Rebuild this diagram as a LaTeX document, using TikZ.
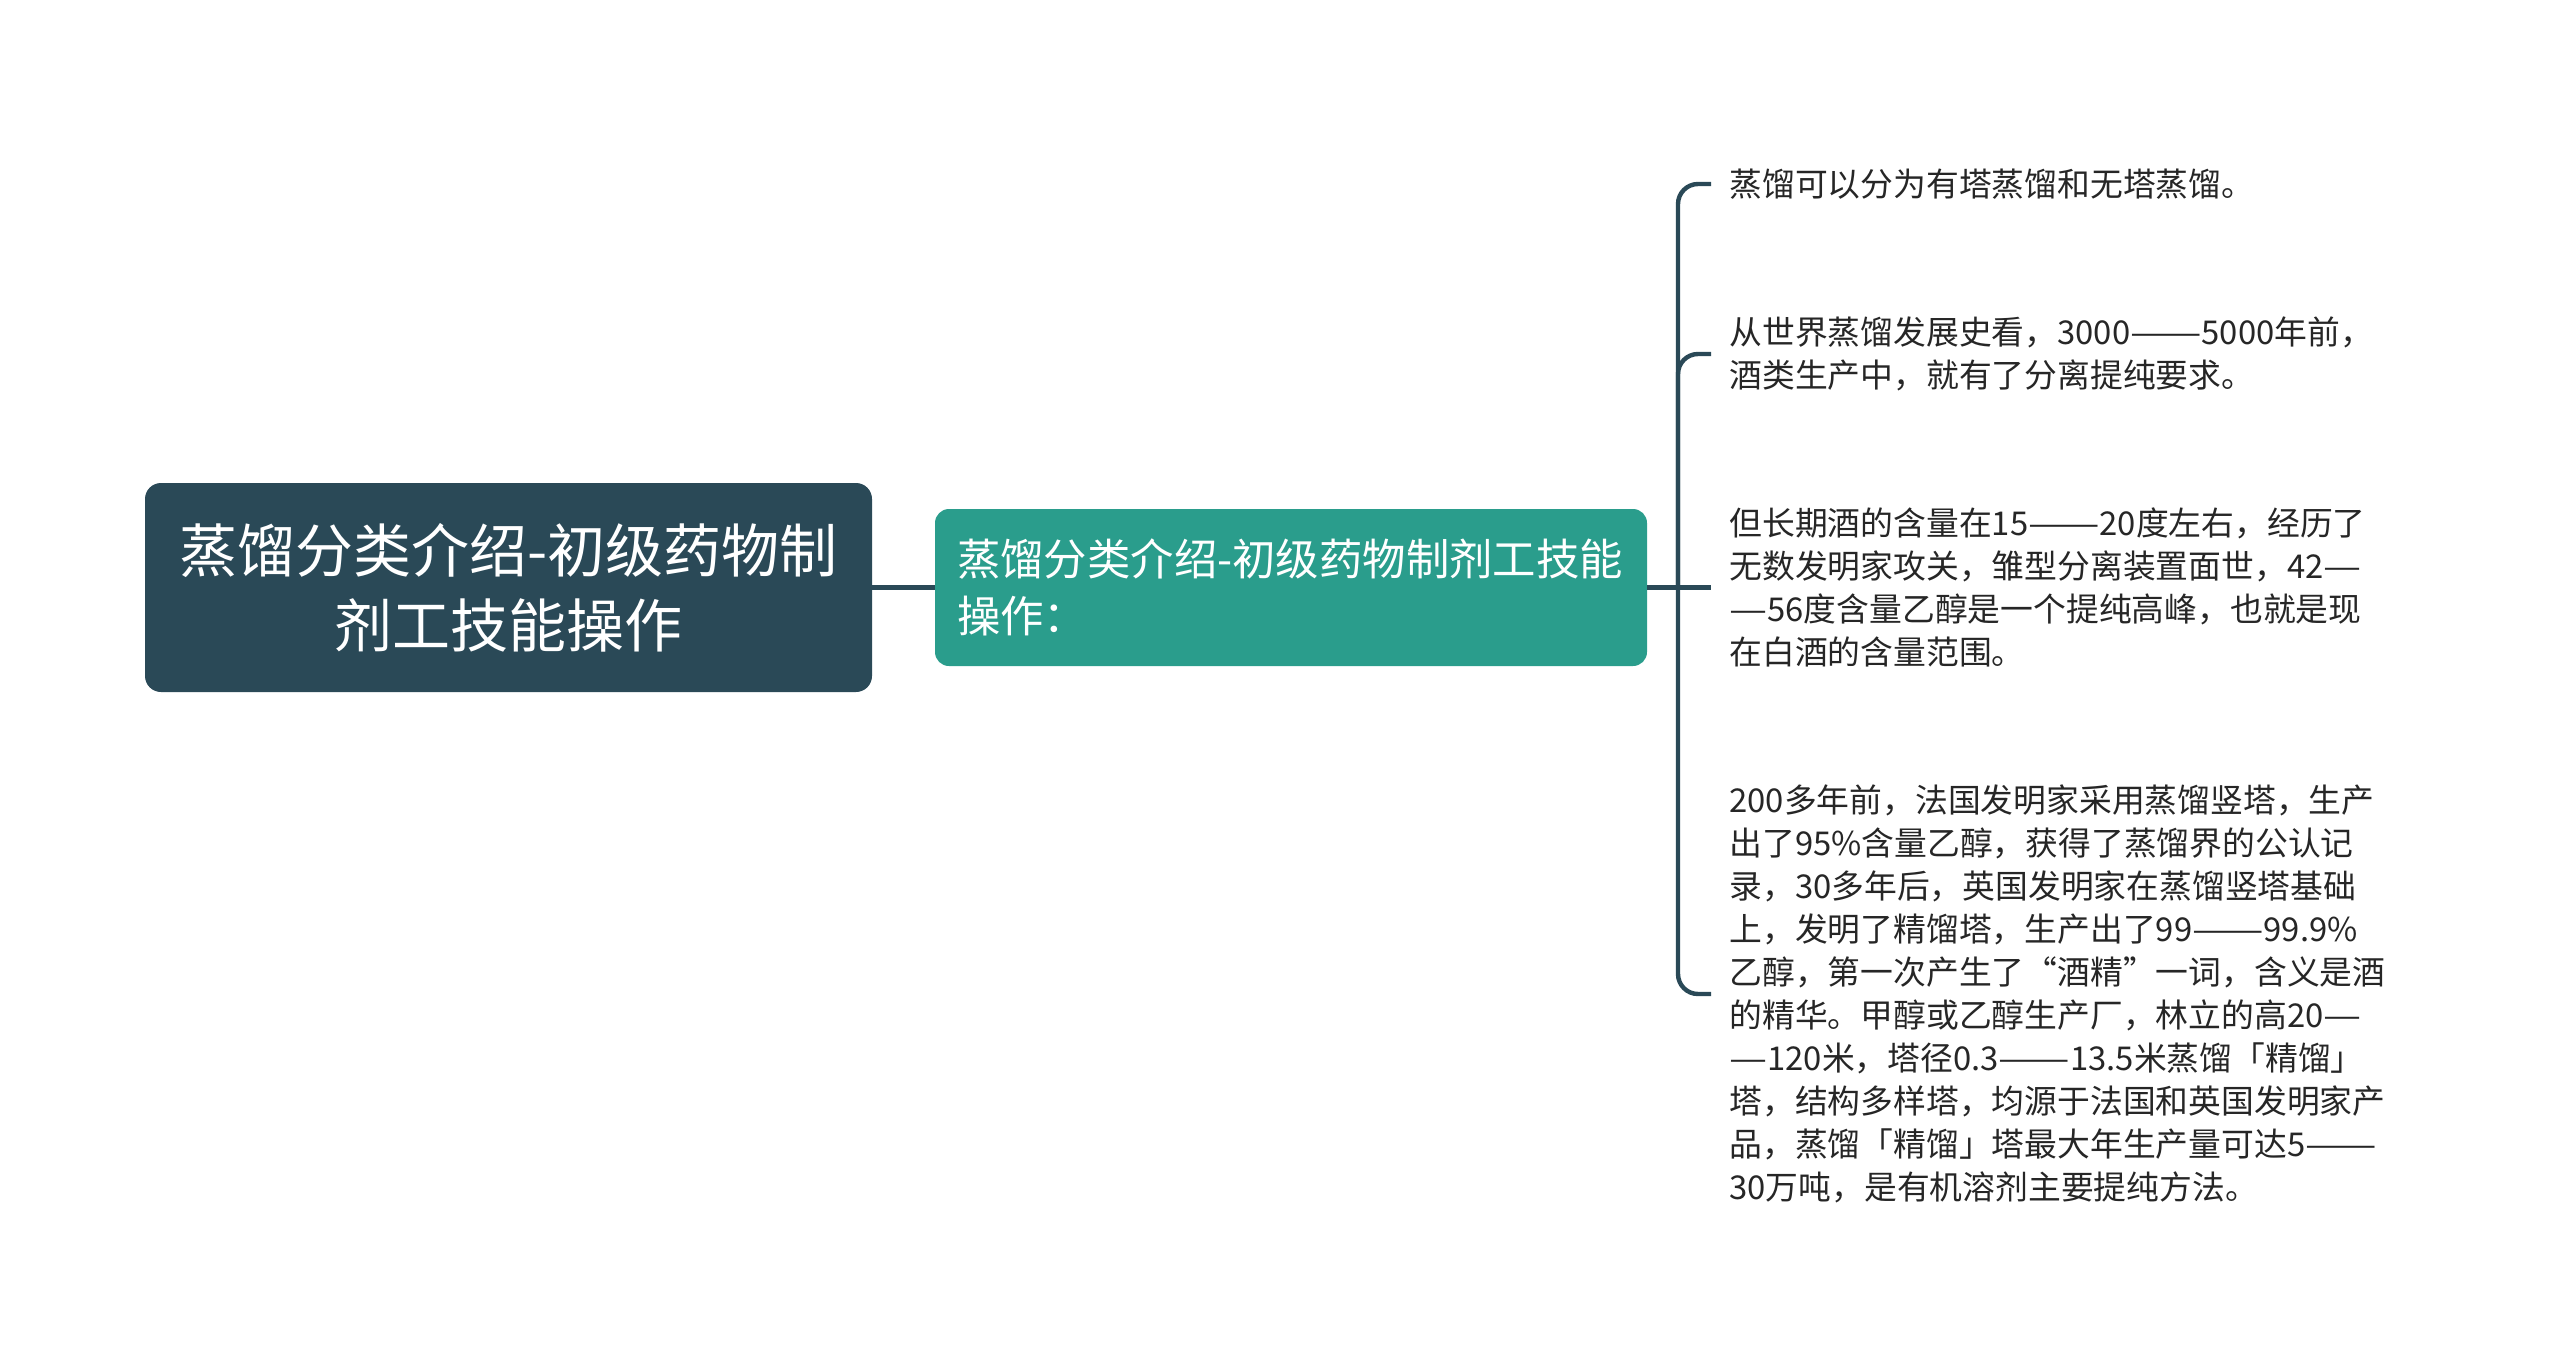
\documentclass[tikz,border=0pt]{standalone}
\usepackage{fontspec}
\newfontfamily\cjk{Noto Sans CJK SC}
\usetikzlibrary{positioning}
\definecolor{rootcol}{HTML}{2A4957}
\definecolor{maincol}{HTML}{2A9D8C}
\definecolor{txtcol}{HTML}{262626}
\newcommand\wdash[1]{\scalebox{1.3}[1]{#1}}
\begin{document}
\begin{tikzpicture}[x=0.5pt,y=-0.5pt]
        \tikzstyle{root} = [rectangle, rounded corners=8pt, fill=rootcol, text=white, minimum width=363.5pt, minimum height=104.5pt, align=center, inner sep=0pt, font=\cjk\fontsize{29pt}{37.5pt}\selectfont]
        \tikzstyle{proc} = [rectangle, rounded corners=7pt, fill=maincol, text=white, minimum width=356pt, minimum height=78.5pt, text width=334pt, inner xsep=11pt, align=left, font=\cjk\fontsize{21.7pt}{28.5pt}\selectfont]
        \tikzstyle{leaf} = [rectangle, anchor=west, inner xsep=9pt, align=left, text=txtcol, font=\cjk\fontsize{16.4pt}{21.5pt}\selectfont]
        \tikzstyle{line} = [draw=rootcol, line width=2.2pt]
        \useasboundingbox (0,0) rectangle (2560,1371);
		\node [root] (0) at (508.5, 587.5) {蒸馏分类介绍-初级药物制\\剂工技能操作};
		\node [proc] (1) at (1291, 587.5) {蒸馏分类介绍-初级药物制剂工技能\\操作：};
		\coordinate (2) at (1678, 587.5);
		\node [leaf] (3) at (1711, 184) {蒸馏可以分为有塔蒸馏和无塔蒸馏。};
		\node [leaf] (4) at (1711, 354) {从世界蒸馏发展史看，3000\wdash{——}5000年前，\\酒类生产中，就有了分离提纯要求。};
		\node [leaf] (5) at (1711, 587.5) {但长期酒的含量在15\wdash{——}20度左右，经历了\\无数发明家攻关，雏型分离装置面世，42\wdash{—}\\\wdash{—}56度含量乙醇是一个提纯高峰，也就是现\\在白酒的含量范围。};
		\node [leaf] (6) at (1711, 994) {200多年前，法国发明家采用蒸馏竖塔，生产\\出了95\%含量乙醇，获得了蒸馏界的公认记\\录，30多年后，英国发明家在蒸馏竖塔基础\\上，发明了精馏塔，生产出了99\wdash{——}99.9\%\\乙醇，第一次产生了“酒精”一词，含义是酒\\的精华。甲醇或乙醇生产厂，林立的高20\wdash{—}\\\wdash{—}120米，塔径0.3\wdash{——}13.5米蒸馏「精馏」\\塔，结构多样塔，均源于法国和英国发明家产\\品，蒸馏「精馏」塔最大年生产量可达5\wdash{——}\\30万吨，是有机溶剂主要提纯方法。};
		\draw[line] (0) to (1);
		\draw[line] (1) to (5);
		\draw[line, rounded corners=10pt] (2) |- (3.west);
		\draw[line, rounded corners=10pt] (2) |- (4.west);
		\draw[line, rounded corners=10pt] (2) |- (6.west);
    \end{tikzpicture}
\end{document}
